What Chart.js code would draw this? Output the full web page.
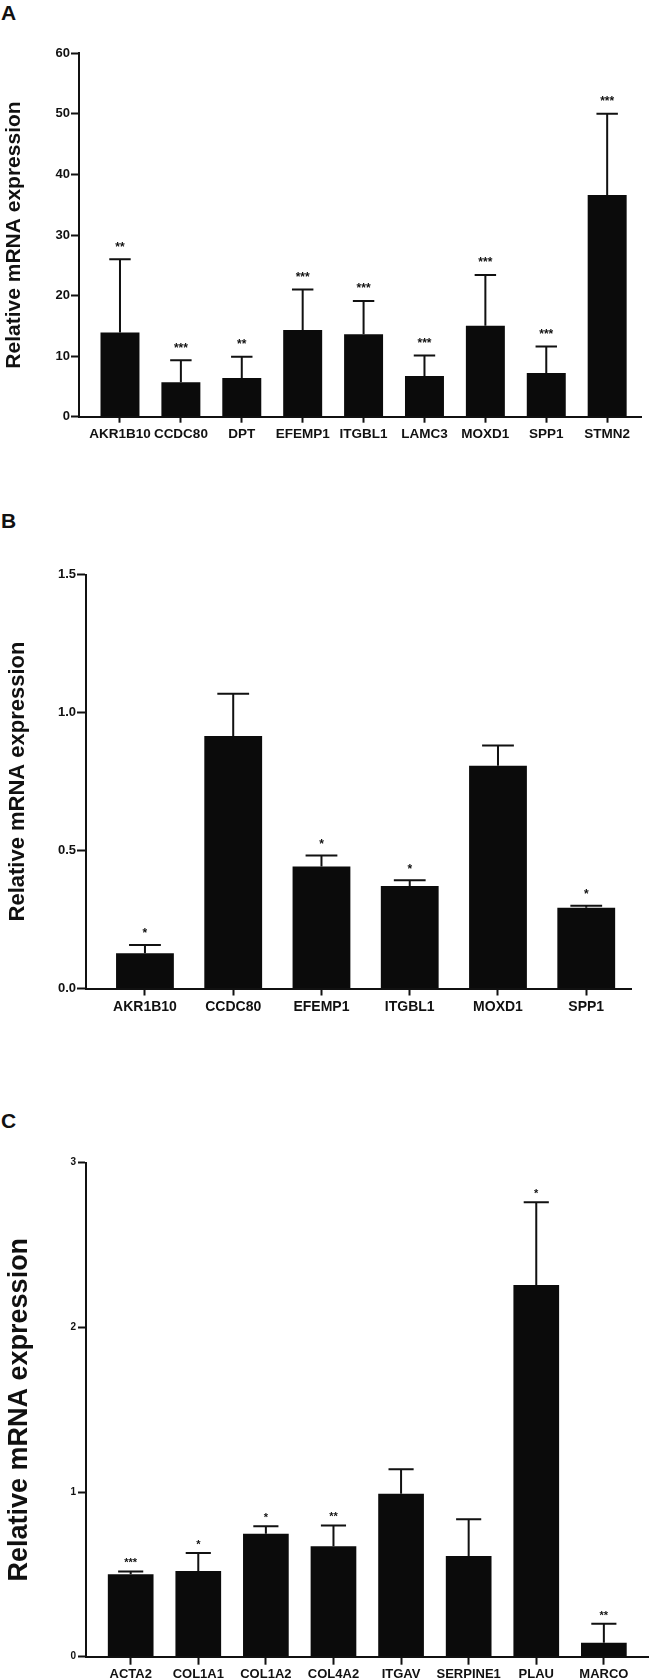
<!DOCTYPE html>
<html>
<head>
<meta charset="utf-8">
<script src="https://cdn.jsdelivr.net/npm/chart.js@4"></script>
<style>
  html, body { margin: 0; padding: 0; background: #fff; }
  #page { position: relative; width: 649px; height: 1679px; overflow: hidden; background: #fff; }
  canvas { position: absolute; left: 0; }
  .panel { position: absolute; left: 1px; font: bold 21px "Liberation Sans", Arial, sans-serif; line-height: 21px; color: #111; }
</style>
</head>
<body>
<div id="page">
  <div class="panel" style="top:2px">A</div>
  <div class="panel" style="top:510px">B</div>
  <div class="panel" style="top:1110px">C</div>
  <canvas id="cA" width="649" height="460" style="top:0px"></canvas>
  <canvas id="cB" width="649" height="580" style="top:460px"></canvas>
  <canvas id="cC" width="649" height="639" style="top:1040px"></canvas>
</div>
<script>
// ---- Panel A data ----
const catsA = ["AKR1B10", "CCDC80", "DPT", "EFEMP1", "ITGBL1", "LAMC3", "MOXD1", "SPP1", "STMN2"];
const meanA = [13.9, 5.7, 6.4, 14.3, 13.6, 6.7, 15.0, 7.2, 36.6];
const sdA   = [12.1, 3.6, 3.5, 6.7, 5.5, 3.4, 8.4, 4.4, 13.4];
const sigA  = ["**", "***", "**", "***", "***", "***", "***", "***", "***"];
const ticksA = [0, 10, 20, 30, 40, 50, 60];

// ---- Panel B data ----
const catsB = ["AKR1B10", "CCDC80", "EFEMP1", "ITGBL1", "MOXD1", "SPP1"];
const meanB = [0.128, 0.915, 0.442, 0.371, 0.807, 0.293];
const sdB   = [0.030, 0.153, 0.040, 0.021, 0.073, 0.007];
const sigB  = ["*", "", "*", "*", "", "*"];
const ticksB = [0.0, 0.5, 1.0, 1.5];

// ---- Panel C data ----
const catsC = ["ACTA2", "COL1A1", "COL1A2", "COL4A2", "ITGAV", "SERPINE1", "PLAU", "MARCO"];
const meanC = [0.500, 0.521, 0.747, 0.671, 0.989, 0.611, 2.258, 0.084];
const sdC   = [0.018, 0.108, 0.045, 0.126, 0.150, 0.223, 0.502, 0.116];
const sigC  = ["***", "*", "*", "**", "", "", "*", "**"];
const ticksC = [0, 1, 2, 3];

const FONT = '"Liberation Sans", Arial, Helvetica, sans-serif';

const errPlugin = {
  id: 'errStars',
  afterDatasetsDraw(chart, args, opts) {
    const ctx = chart.ctx;
    const meta = chart.getDatasetMeta(0);
    const y = chart.scales.y;
    ctx.save();
    ctx.strokeStyle = '#111';
    ctx.fillStyle = '#111';
    ctx.lineWidth = 2;
    meta.data.forEach((bar, i) => {
      const x = bar.x;
      const yb = y.getPixelForValue(opts.mean[i]);
      const yt = y.getPixelForValue(opts.mean[i] + opts.sd[i]);
      const half = bar.width * 0.55 / 2;
      ctx.beginPath();
      ctx.moveTo(x, yb);
      ctx.lineTo(x, yt);
      ctx.moveTo(x - half, yt);
      ctx.lineTo(x + half, yt);
      ctx.stroke();
      if (opts.sig[i]) {
        ctx.font = 'bold ' + opts.starSize + 'px ' + FONT;
        ctx.textAlign = 'center';
        ctx.textBaseline = 'middle';
        ctx.fillText(opts.sig[i], x, yt - opts.starGap);
      }
    });
    ctx.restore();
  }
};

function makeChart(id, cfg) {
  const canvas = document.getElementById(id);
  const H = canvas.height;
  return new Chart(canvas, {
    type: 'bar',
    data: {
      datasets: [{
        data: cfg.mean.map((v, i) => ({ x: i, y: v })),
        backgroundColor: '#0b0b0b',
        borderWidth: 0,
        categoryPercentage: 1,
        barPercentage: cfg.barPct
      }]
    },
    options: {
      responsive: false,
      animation: false,
      devicePixelRatio: 1,
      layout: { padding: { top: cfg.top, right: cfg.right, left: 0, bottom: 0 } },
      plugins: {
        legend: { display: false },
        tooltip: { enabled: false },
        errStars: { mean: cfg.mean, sd: cfg.sd, sig: cfg.sig, starSize: cfg.starSize, starGap: cfg.starGap }
      },
      scales: {
        x: {
          type: 'linear',
          offset: false,
          min: cfg.xmin,
          max: cfg.xmax,
          bounds: 'data',
          afterBuildTicks: (s) => { s.ticks = cfg.cats.map((_, i) => ({ value: i })); },
          afterFit: (s) => { s.height = H - cfg.bottom; s.paddingLeft = 0; s.paddingRight = 0; },
          grid: { display: true, offset: false, drawOnChartArea: false, drawTicks: true, tickLength: cfg.xTickLen, tickWidth: 2, tickColor: '#111', color: '#111' },
          border: { display: true, color: '#111', width: 2 },
          ticks: {
            autoSkip: false, maxRotation: 0, minRotation: 0,
            padding: cfg.xPad,
            color: '#111',
            font: { family: FONT, weight: 'bold', size: cfg.xFont },
            callback: (v) => cfg.cats[v]
          }
        },
        y: {
          min: 0,
          max: cfg.yTicks[cfg.yTicks.length - 1],
          afterBuildTicks: (s) => { s.ticks = cfg.yTicks.map(v => ({ value: v })); },
          afterFit: (s) => { s.width = cfg.left; s.paddingTop = 0; s.paddingBottom = 0; },
          grid: { display: true, drawOnChartArea: false, drawTicks: true, tickLength: cfg.yTickLen, tickWidth: 2, tickColor: '#111', color: '#111' },
          border: { display: true, color: '#111', width: 2 },
          ticks: {
            padding: cfg.yPad,
            color: '#111',
            font: { family: FONT, weight: 'bold', size: cfg.yFont },
            callback: (v) => cfg.yFmt(v)
          },
          title: {
            display: true,
            text: 'Relative mRNA expression',
            color: '#111',
            font: { family: FONT, weight: 'bold', size: cfg.titleSize },
            padding: { top: cfg.titlePad, bottom: 0 }
          }
        }
      }
    },
    plugins: [errPlugin]
  });
}

makeChart('cA', {
  cats: catsA, mean: meanA, sd: sdA, sig: sigA, yTicks: ticksA,
  yFmt: v => String(v),
  top: 53.3, right: 7.3, left: 79, bottom: 416.7,
  xmin: -0.673, xmax: 8.567, barPct: 0.64,
  xTickLen: 6, xPad: 3, xFont: 13.5,
  yTickLen: 8, yPad: 1, yFont: 13,
  titleSize: 21, titlePad: 2,
  starSize: 12, starGap: 12
});

makeChart('cB', {
  cats: catsB, mean: meanB, sd: sdB, sig: sigB, yTicks: ticksB,
  yFmt: v => v.toFixed(1),
  top: 114.5, right: 649 - 631.7, left: 86, bottom: 528.5,
  xmin: -0.668, xmax: 5.515, barPct: 0.655,
  xTickLen: 7, xPad: 3, xFont: 14,
  yTickLen: 9, yPad: 1, yFont: 13,
  titleSize: 22, titlePad: 5,
  starSize: 12, starGap: 11
});

makeChart('cC', {
  cats: catsC, mean: meanC, sd: sdC, sig: sigC, yTicks: ticksC,
  yFmt: v => String(v),
  top: 122.7, right: 1, left: 86, bottom: 616.7,
  xmin: -0.661, xmax: 7.653, barPct: 0.676,
  xTickLen: 8, xPad: 1.5, xFont: 13,
  yTickLen: 8, yPad: 2, yFont: 10,
  titleSize: 27, titlePad: 3.5,
  starSize: 11, starGap: 8
});
</script>
</body>
</html>
